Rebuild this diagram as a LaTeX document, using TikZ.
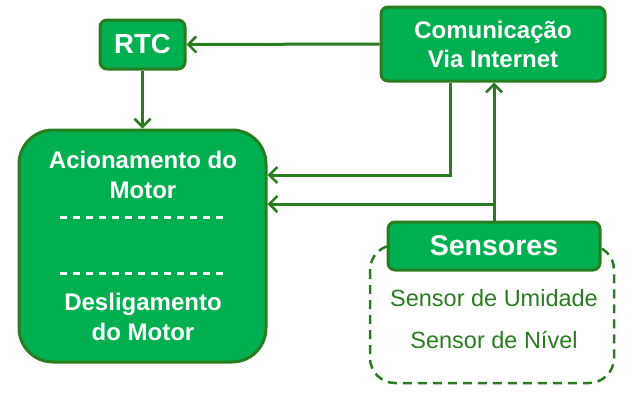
\documentclass[tikz,border=0pt]{standalone}
\usepackage{fontspec}
\setmainfont{Liberation Sans}
\usetikzlibrary{arrows.meta}

\definecolor{boxgreen}{RGB}{0,176,80}
\definecolor{linegreen}{RGB}{40,125,30}

\begin{document}
\begin{tikzpicture}[x=1pt,y=-1pt,
  block/.style={draw=linegreen, fill=boxgreen, line width=3pt, rounded corners=7pt,
    text=white, font=\bfseries, inner sep=0pt, align=center},
  link/.style={draw=linegreen, line width=3pt, -{Straight Barb[length=8pt,width=16pt,line width=2.5pt]}},
  wtext/.style={text=white, font=\fontsize{24}{30}\selectfont\bfseries, align=center},
  gtext/.style={text=linegreen, font=\fontsize{23.5}{27}\selectfont}]
  \useasboundingbox (0,0) rectangle (629,407);

%motor
  \node[block, rounded corners=34pt, minimum width=247pt, minimum height=232pt] (motor) at (142.5,246) {};
  \node[wtext] (liga) at (143,175) {Acionamento do\\Motor};
  \node[wtext] (desliga) at (143,317) {Desligamento\\do Motor};
  \coordinate (dA) at (60,217);
  \coordinate (dB) at (228,217);
  \coordinate (dC) at (60,273);
  \coordinate (dD) at (228,273);
  \draw[white, line width=3pt, dash pattern=on 7pt off 6pt] (dA) -- (dB);
  \draw[white, line width=3pt, dash pattern=on 7pt off 6pt] (dC) -- (dD);

%RTC
  \node[block, minimum width=85pt, minimum height=49pt, font=\fontsize{27.5}{30}\selectfont\bfseries] (rtc) at (142.5,44.5) {RTC};

%internet
  \node[block, minimum width=224pt, minimum height=74pt, font=\fontsize{24}{29}\selectfont\bfseries] (web) at (493,44) {Comunicação\\Via Internet};

%sensores
  \draw[linegreen, line width=2.5pt, dash pattern=on 9pt off 6pt, rounded corners=25pt] (370,245) rectangle (614,383);
  \node[block, minimum width=212pt, minimum height=48pt, font=\fontsize{28.5}{30}\selectfont\bfseries] (sens) at (494,246) {Sensores};
  \node[gtext] (umid) at (494,298) {Sensor de Umidade};
  \node[gtext] (nivel) at (494,340) {Sensor de Nível};

%links
  \coordinate (wA) at (450,175);
  \coordinate (sA) at (494,204);
  \draw[link] (web.west) -- (rtc.east);
  \draw[link] (rtc.south) -- (motor.north);
  \draw[link] (web.south -| wA) -- (wA) -- (motor.east |- wA);
  \draw[link] (sens.north) -- (web.south -| sens.north);
  \draw[link] (sA) -- (motor.east |- sA);

\end{tikzpicture}
\end{document}
